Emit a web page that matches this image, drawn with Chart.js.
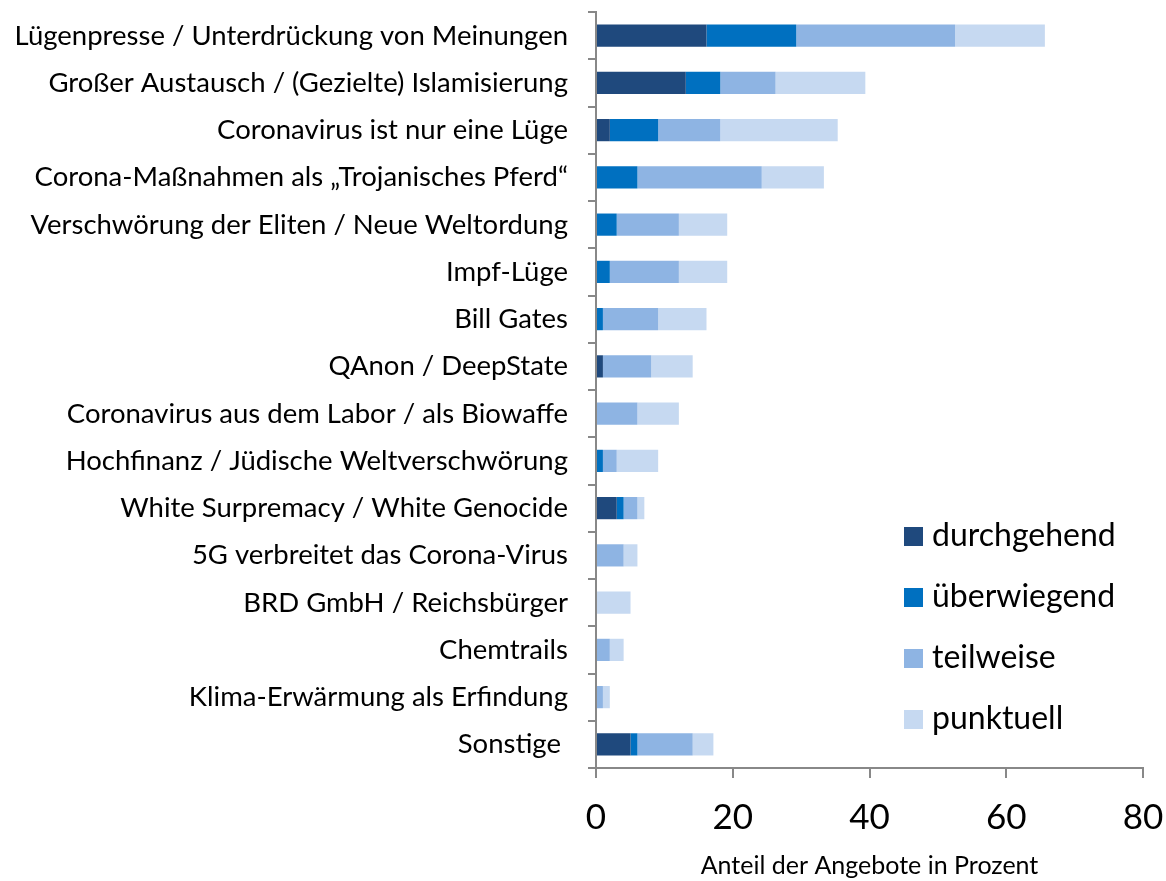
<!DOCTYPE html>
<html>
<head>
<meta charset="utf-8">
<script src="https://cdn.jsdelivr.net/npm/chart.js@4.4.0/dist/chart.umd.min.js"></script>
<style>
  html, body { margin: 0; padding: 0; background: #fff; }
  #wrap { width: 1166px; height: 881px; position: relative; }
</style>
</head>
<body>
<div id="wrap"><canvas id="chart"></canvas></div>
<script>
// Kategorien (von oben nach unten)
const categories = [
    'Lügenpresse / Unterdrückung von Meinungen',
    'Großer Austausch / (Gezielte) Islamisierung',
    'Coronavirus ist nur eine Lüge',
    'Corona-Maßnahmen als \u201eTrojanisches Pferd\u201c',
    'Verschwörung der Eliten / Neue Weltordung',
    'Impf-Lüge',
    'Bill Gates',
    'QAnon / DeepState',
    'Coronavirus aus dem Labor / als Biowaffe',
    'Hochfinanz / Jüdische Weltverschwörung',
    'White Surpremacy / White Genocide',
    '5G verbreitet das Corona-Virus',
    'BRD GmbH / Reichsbürger',
    'Chemtrails',
    'Klima-Erwärmung als Erfindung',
    'Sonstige '
];

// Anteile in Prozent
const durchgehend = [16.16, 13.13, 2.02, 0, 0, 0, 0, 1.01, 0, 0, 3.03, 0, 0, 0, 0, 5.05];
const ueberwiegend = [13.13, 5.05, 7.07, 6.06, 3.03, 2.02, 1.01, 0, 0, 1.01, 1.01, 0, 0, 0, 0, 1.01];
const teilweise = [23.23, 8.08, 9.09, 18.18, 9.09, 10.10, 8.08, 7.07, 6.06, 2.02, 2.02, 4.04, 0, 2.02, 1.01, 8.08];
const punktuell = [13.13, 13.13, 17.17, 9.09, 7.07, 7.07, 7.07, 6.06, 6.06, 6.06, 1.01, 2.02, 5.05, 2.02, 1.01, 3.03];

const xTicks = [0, 20, 40, 60, 80];

const seriesNames = ['durchgehend', 'überwiegend', 'teilweise', 'punktuell'];
const seriesColors = ['#1F497D', '#0070C0', '#8EB4E3', '#C6D9F1'];
const seriesData = [durchgehend, ueberwiegend, teilweise, punktuell];

const FONT = 'Lato, "Open Sans", sans-serif';
const AXIS_GREY = '#888888';

// Legende innerhalb der Zeichenfläche
const innerLegend = {
    id: 'innerLegend',
    afterDraw(chart) {
        const c = chart.ctx;
        c.save();
        c.font = '32px ' + FONT;
        c.textBaseline = 'middle';
        c.textAlign = 'left';
        chart.data.datasets.forEach((ds, i) => {
            const y = 536 + i * 61;
            c.fillStyle = ds.backgroundColor;
            c.fillRect(904, y - 9, 19, 19);
            c.fillStyle = '#000';
            c.fillText(ds.label, 932, y);
        });
        c.restore();
    }
};

function noPadding(scale) {
    scale.paddingTop = 0;
    scale.paddingBottom = 0;
    scale.paddingLeft = 0;
    scale.paddingRight = 0;
}

const ctx = document.getElementById('chart').getContext('2d');
new Chart(ctx, {
    type: 'bar',
    data: {
        labels: categories,
        datasets: seriesNames.map((name, i) => ({
            label: name,
            data: seriesData[i],
            backgroundColor: seriesColors[i],
            borderWidth: 0,
            categoryPercentage: 1.0,
            barPercentage: 0.47
        }))
    },
    options: {
        indexAxis: 'y',
        responsive: true,
        maintainAspectRatio: false,
        animation: false,
        layout: { padding: { top: 12, right: 23, left: 0, bottom: 0 } },
        plugins: {
            legend: { display: false },
            tooltip: { enabled: false }
        },
        scales: {
            x: {
                stacked: true,
                min: 0,
                max: 80,
                afterBuildTicks(scale) {
                    scale.ticks = xTicks.map(v => ({ value: v }));
                },
                afterFit(scale) {
                    scale.height = 113;
                    noPadding(scale);
                },
                grid: {
                    drawOnChartArea: false,
                    drawTicks: true,
                    tickLength: 10,
                    color: AXIS_GREY,
                    lineWidth: 2
                },
                border: { color: AXIS_GREY, width: 2 },
                ticks: {
                    color: '#000',
                    font: { family: FONT, size: 35 },
                    padding: 19
                },
                title: {
                    display: true,
                    text: 'Anteil der Angebote in Prozent',
                    color: '#000',
                    font: { family: FONT, size: 25 },
                    padding: { top: 4, bottom: 0 }
                }
            },
            y: {
                stacked: true,
                afterFit(scale) {
                    scale.width = 596;
                    noPadding(scale);
                },
                grid: {
                    offset: true,
                    drawOnChartArea: false,
                    drawTicks: true,
                    tickLength: 8,
                    color: AXIS_GREY,
                    lineWidth: 2
                },
                border: { color: AXIS_GREY, width: 2 },
                ticks: {
                    color: '#000',
                    font: { family: FONT, size: 27.5 },
                    padding: 20,
                    autoSkip: false
                }
            }
        }
    },
    plugins: [innerLegend]
});
</script>
</body>
</html>
